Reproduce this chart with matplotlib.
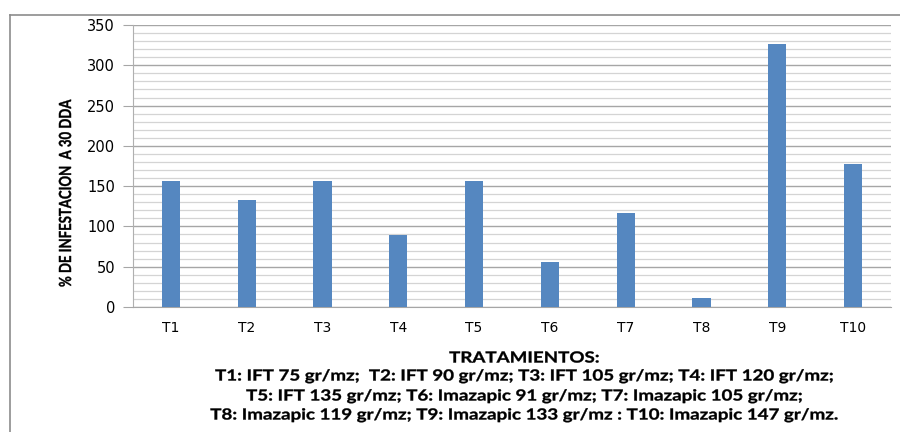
import matplotlib
matplotlib.use("Agg")
import matplotlib.pyplot as plt
from matplotlib.lines import Line2D
from matplotlib.patches import PathPatch
from matplotlib.textpath import TextPath
from matplotlib.font_manager import FontProperties
from matplotlib.transforms import Affine2D
import numpy as np

# ── datos ─────────────────────────────────────────────
tratamientos = ["T1", "T2", "T3", "T4", "T5", "T6", "T7", "T8", "T9", "T10"]
infestacion = [156, 133, 156, 89, 156, 56, 117, 11, 327, 177]
y_ticks = [0, 50, 100, 150, 200, 250, 300, 350]

ylabel = "% DE INFESTACION  A 30 DDA"
nota = [
    "TRATAMIENTOS:",
    "T1: IFT 75 gr/mz;  T2: IFT 90 gr/mz; T3: IFT 105 gr/mz; T4: IFT 120 gr/mz;",
    "T5: IFT 135 gr/mz; T6: Imazapic 91 gr/mz; T7: Imazapic 105 gr/mz;",
    "T8: Imazapic 119 gr/mz; T9: Imazapic 133 gr/mz : T10: Imazapic 147 gr/mz.",
]

BAR_COLOR = "#5587c0"
W, H = 900, 432
PROP = FontProperties(family="Lato", weight="bold")


def texto_estrecho(txt, cx, cy, em_px, sx, rot=0):
    """Texto en negrita comprimido en horizontal (aspecto Calibri); coords en px."""
    tp = TextPath((0, 0), txt, size=em_px, prop=PROP)
    ext = tp.get_extents()
    base = TextPath((0, 0), "T", size=em_px, prop=PROP).get_extents()
    tr = (Affine2D().translate(-ext.x0 - ext.width / 2, -(base.y0 + base.height / 2))
          .scale(sx, 1.0).rotate_deg(rot).translate(cx, H - cy))
    fig.add_artist(PathPatch(tp, transform=tr, facecolor="black",
                             edgecolor="black", linewidth=0.25))


def ancho(txt, em_px):
    return TextPath((0, 0), txt, size=em_px, prop=PROP).get_extents().width


fig = plt.figure(figsize=(9, 4.32), dpi=100)

# marco exterior del gráfico (estilo Excel): solo bordes izquierdo y superior visibles
fig.add_artist(Line2D([10 / W, 10 / W], [0, 1 - 15 / H], transform=fig.transFigure,
                      color="#8c8c8c", linewidth=1.2))
fig.add_artist(Line2D([10 / W, 1], [1 - 15 / H, 1 - 15 / H], transform=fig.transFigure,
                      color="#8c8c8c", linewidth=1.2))

ax = fig.add_axes([133 / W, 1 - 307 / H, (891 - 133) / W, (307 - 25) / H])

x = np.arange(len(tratamientos))
ax.bar(x, infestacion, width=0.24, color=BAR_COLOR, zorder=3)

ax.set_xlim(-0.5, len(tratamientos) - 0.5)
ax.set_ylim(0, 350)
ax.set_yticks(y_ticks)
ax.set_yticks(np.arange(0, 351, 10), minor=True)
ax.set_xticks(x)
ax.set_xticklabels(tratamientos, fontsize=10, family="DejaVu Sans")
ax.tick_params(axis="y", which="major", length=7, color="#a6a6a6", labelsize=10.5,
               pad=6)
ax.tick_params(axis="y", which="minor", length=0)
ax.tick_params(axis="x", length=0, pad=10)
for lbl in ax.get_yticklabels():
    lbl.set_family("DejaVu Sans")

ax.grid(axis="y", which="minor", color="#d4d4d4", linewidth=0.9, zorder=0)
ax.grid(axis="y", which="major", color="#a6a6a6", linewidth=1.0, zorder=0)

for s in ["top", "right"]:
    ax.spines[s].set_visible(False)
ax.spines["left"].set_color("#b0b0b0")
ax.spines["bottom"].set_color("#a6a6a6")

# etiqueta del eje Y (vertical)
EM_Y = 16.7
texto_estrecho(ylabel, 65, 193, EM_Y, 187 / ancho(ylabel, EM_Y), rot=90)

# nota de tratamientos, misma compresión para todas las líneas
EM_NOTA = 15.3
sx_nota = 627 / ancho(nota[-1], EM_NOTA)
for txt, yy in zip(nota, [357, 375, 395, 414]):
    texto_estrecho(txt, 524, yy, EM_NOTA, sx_nota)

fig.savefig("out.png", dpi=100)
